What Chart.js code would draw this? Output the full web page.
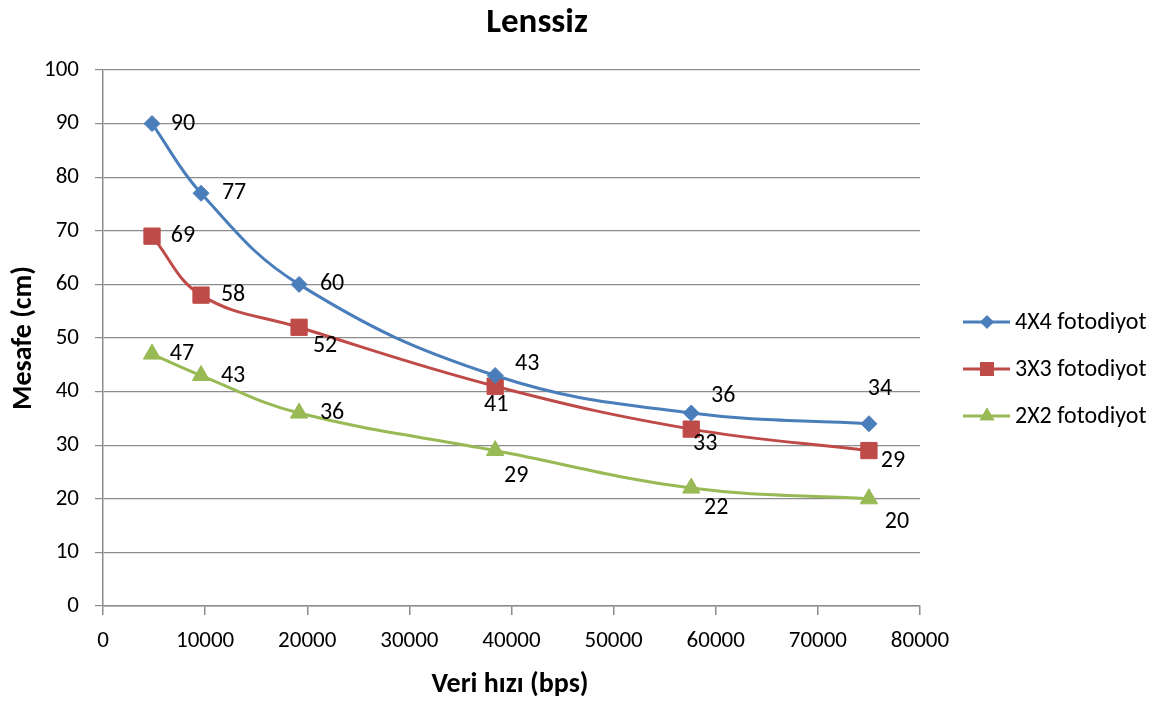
<!DOCTYPE html>
<html>
<head>
<meta charset="utf-8">
<script src="https://cdn.jsdelivr.net/npm/chart.js@4/dist/chart.umd.min.js"></script>
<style>
    html, body { margin: 0; padding: 0; background: #fff; }
    #wrap { width: 1163px; height: 706px; position: relative; }
</style>
</head>
<body>
<div id="wrap"><canvas id="chart"></canvas></div>
<script>
const FONT = "Carlito, Calibri, 'Liberation Sans', sans-serif";

const dataRates = [4800, 9600, 19200, 38400, 57600, 75000];
const seriesNames = ['4X4 fotodiyot', '3X3 fotodiyot', '2X2 fotodiyot'];
const values4x4 = [90, 77, 60, 43, 36, 34];
const values3x3 = [69, 58, 52, 41, 33, 29];
const values2x2 = [47, 43, 36, 29, 22, 20];
const yTicks = [0, 10, 20, 30, 40, 50, 60, 70, 80, 90, 100];
const xTicks = [0, 10000, 20000, 30000, 40000, 50000, 60000, 70000, 80000];

const colors = ['#4a7ebb', '#be4b48', '#98b954'];
const markers = [
    { style: 'rectRot', radius: 8 },
    { style: 'rect', radius: 11.5 },
    { style: 'triangle', radius: 10 }
];

// label offsets from the marker, like Excel placed them
const labelOffsets = [
    [[31, 0], [33, 0], [33, 0], [32, -12], [32, -17], [11, -35]],
    [[31, 0], [32, 0], [26, 19], [1, 19], [14, 15], [24, 10]],
    [[30, 0], [32, 0], [33, 0], [21, 25], [25, 20], [28, 23]]
];

function toPoints(values) {
    return values.map((v, i) => ({ x: dataRates[i], y: v }));
}

const allValues = [values4x4, values3x3, values2x2];

const datasets = allValues.map((vals, i) => ({
    label: seriesNames[i],
    data: toPoints(vals),
    borderColor: colors[i],
    backgroundColor: colors[i],
    borderWidth: 3,
    tension: 0.4,
    pointStyle: markers[i].style,
    pointRadius: markers[i].radius,
    pointBorderWidth: 1,
    pointBorderColor: colors[i],
    pointBackgroundColor: colors[i]
}));

const textPlugin = {
    id: 'textPlugin',
    afterDatasetsDraw(chart) {
        const ctx = chart.ctx;
        ctx.save();
        ctx.font = '24px ' + FONT;
        ctx.fillStyle = '#000';
        ctx.textAlign = 'center';
        ctx.textBaseline = 'middle';
        chart.data.datasets.forEach((ds, di) => {
            const meta = chart.getDatasetMeta(di);
            meta.data.forEach((pt, i) => {
                const off = labelOffsets[di][i];
                ctx.fillText(String(allValues[di][i]), pt.x + off[0], pt.y + off[1]);
            });
        });
        ctx.restore();
    },
    afterDraw(chart) {
        const ctx = chart.ctx;
        ctx.save();
        ctx.fillStyle = '#000';
        ctx.textAlign = 'center';
        ctx.textBaseline = 'middle';

        ctx.font = 'bold 35px ' + FONT;
        ctx.fillText('Lenssiz', 537, 23);

        ctx.font = 'bold 28px ' + FONT;
        ctx.fillText('Veri hızı (bps)', 510, 685);

        ctx.save();
        ctx.translate(24, 338);
        ctx.rotate(-Math.PI / 2);
        ctx.fillText('Mesafe (cm)', 0, 0);
        ctx.restore();

        // legend
        ctx.font = '24px ' + FONT;
        ctx.textAlign = 'left';
        chart.data.datasets.forEach((ds, i) => {
            const y = 322 + i * 47;
            ctx.strokeStyle = colors[i];
            ctx.lineWidth = 3;
            ctx.beginPath();
            ctx.moveTo(963, y);
            ctx.lineTo(1010, y);
            ctx.stroke();
            ctx.fillStyle = colors[i];
            Chart.helpers.drawPoint(ctx, {
                pointStyle: markers[i].style,
                radius: markers[i].radius * 0.85,
                rotation: 0,
                borderWidth: 0
            }, 987, y);
            ctx.fill();
            ctx.fillStyle = '#000';
            ctx.fillText(ds.label, 1015, y + 1);
        });
        ctx.restore();
    }
};

new Chart(document.getElementById('chart'), {
    type: 'line',
    data: { datasets },
    options: {
        responsive: true,
        maintainAspectRatio: false,
        animation: false,
        layout: { padding: { top: 70, right: 243, left: 0, bottom: 0 } },
        plugins: {
            legend: { display: false },
            title: { display: false },
            tooltip: { enabled: false }
        },
        scales: {
            x: {
                type: 'linear',
                min: 0,
                max: 80000,
                afterFit(scale) { scale.height = 100; },
                afterBuildTicks(scale) { scale.ticks = xTicks.map(v => ({ value: v })); },
                grid: {
                    drawOnChartArea: false,
                    drawTicks: true,
                    tickLength: 9,
                    color: '#8c8c8c',
                    lineWidth: 1.5
                },
                border: { color: '#8c8c8c', width: 1.5 },
                ticks: {
                    font: { family: FONT, size: 23 },
                    color: '#000',
                    padding: 12,
                    maxRotation: 0,
                    autoSkip: false,
                    callback: v => String(v)
                }
            },
            y: {
                min: 0,
                max: 100,
                afterFit(scale) { scale.width = 103; },
                afterBuildTicks(scale) { scale.ticks = yTicks.map(v => ({ value: v })); },
                grid: {
                    color: '#8c8c8c',
                    lineWidth: 1.2,
                    tickLength: 8
                },
                border: { color: '#8c8c8c', width: 1.5 },
                ticks: {
                    font: { family: FONT, size: 23 },
                    color: '#000',
                    padding: 16
                }
            }
        }
    },
    plugins: [textPlugin]
});
</script>
</body>
</html>
